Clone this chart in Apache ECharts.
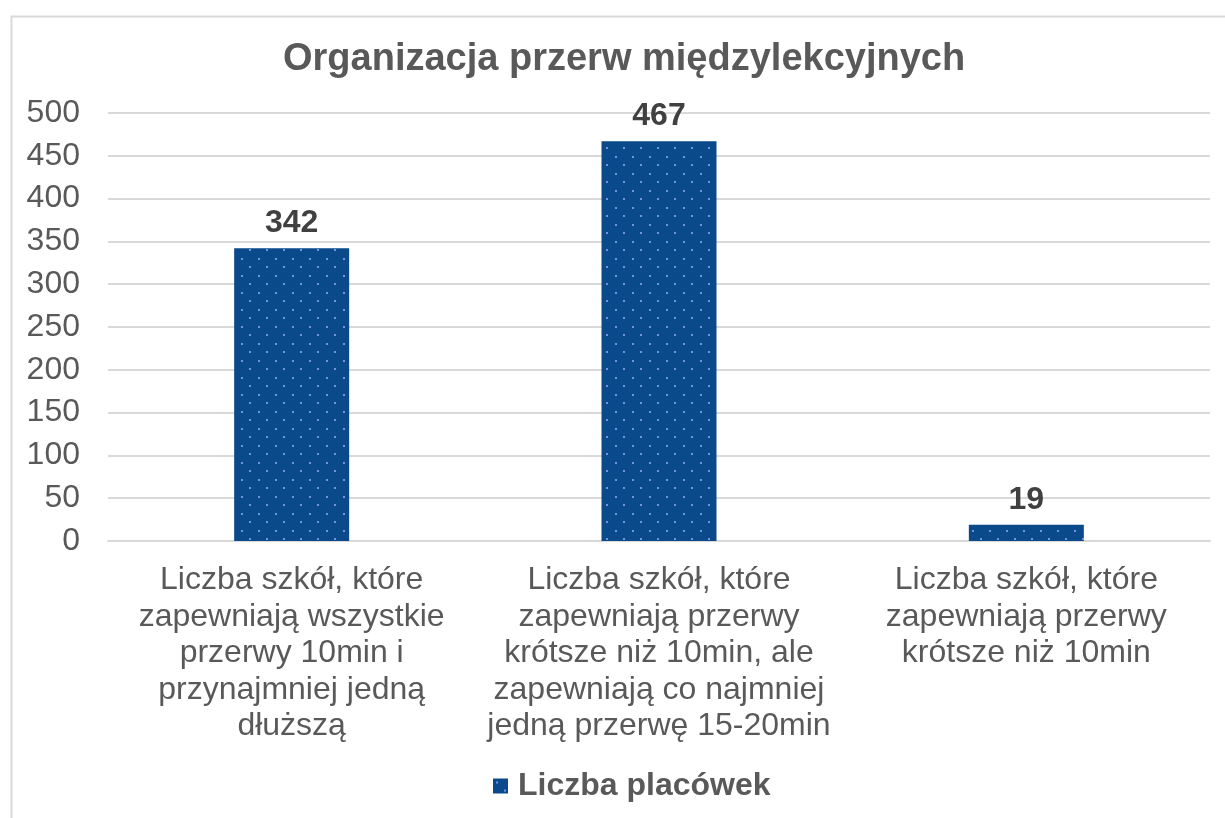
<!DOCTYPE html>
<html>
<head>
<meta charset="utf-8">
<title>Organizacja przerw międzylekcyjnych</title>
<script src="https://cdn.jsdelivr.net/npm/echarts@6/dist/echarts.min.js"></script>
<style>
  html, body { margin: 0; padding: 0; background: #fff; }
  #chart { width: 1225px; height: 818px; }
</style>
</head>
<body>
<div id="chart"></div>
<script>
var categories = [
  'Liczba szkół, które\nzapewniają wszystkie\nprzerwy 10min i\nprzynajmniej jedną\ndłuższą',
  'Liczba szkół, które\nzapewniają przerwy\nkrótsze niż 10min, ale\nzapewniają co najmniej\njedną przerwę 15-20min',
  'Liczba szkół, które\nzapewniają przerwy\nkrótsze niż 10min'
];
var values = [342, 467, 19];
var seriesName = 'Liczba placówek';
var chartTitle = 'Organizacja przerw międzylekcyjnych';

// dotted fill like the original bars
var tile = document.createElement('canvas');
tile.width = 17;
tile.height = 17;
var ctx = tile.getContext('2d');
ctx.fillStyle = '#0a4a8a';
ctx.fillRect(0, 0, 17, 17);
ctx.fillStyle = '#7094e0';
ctx.fillRect(3, 3, 2, 2);
ctx.fillRect(11, 11, 2, 2);

var font = 'Liberation Sans, Arial, sans-serif';
var myChart = echarts.init(document.getElementById('chart'));

var option = {
  animation: false,
  textStyle: { fontFamily: font },
  graphic: [{
    type: 'rect',
    left: 9, top: 14,
    shape: { width: 1240, height: 830 },
    style: { fill: 'none', stroke: '#d9d9d9', lineWidth: 2 }
  }],
  title: {
    text: chartTitle,
    left: 283,
    top: 41,
    padding: 0,
    textStyle: { fontSize: 38, fontWeight: 'bold', color: '#595959', fontFamily: font }
  },
  legend: {
    data: [seriesName],
    left: 493,
    top: 770,
    padding: 0,
    icon: 'rect',
    itemWidth: 15,
    itemHeight: 15,
    itemGap: 5,
    textStyle: { fontSize: 32, fontWeight: 'bold', color: '#595959', fontFamily: font, padding: [0, 0, 0, 5] }
  },
  grid: { left: 108, right: 15, top: 113, bottom: 277, containLabel: false },
  xAxis: {
    type: 'category',
    data: categories,
    axisLine: { lineStyle: { color: '#d9d9d9', width: 2 } },
    axisTick: { show: false },
    axisLabel: {
      fontSize: 32,
      color: '#595959',
      lineHeight: 36.5,
      margin: 21,
      interval: 0,
      fontFamily: font
    }
  },
  yAxis: {
    type: 'value',
    min: 0,
    max: 500,
    interval: 50,
    axisLine: { show: false },
    axisTick: { show: false },
    splitLine: { lineStyle: { color: '#d9d9d9', width: 2 } },
    axisLabel: { fontSize: 32, color: '#595959', margin: 28, fontFamily: font }
  },
  series: [{
    name: seriesName,
    type: 'bar',
    data: values,
    barWidth: 115,
    itemStyle: { color: { image: tile, repeat: 'repeat' } },
    label: {
      show: true,
      position: 'top',
      distance: 9,
      fontSize: 32,
      fontWeight: 'bold',
      color: '#404040',
      fontFamily: font
    }
  }]
};

myChart.setOption(option);
</script>
</body>
</html>
